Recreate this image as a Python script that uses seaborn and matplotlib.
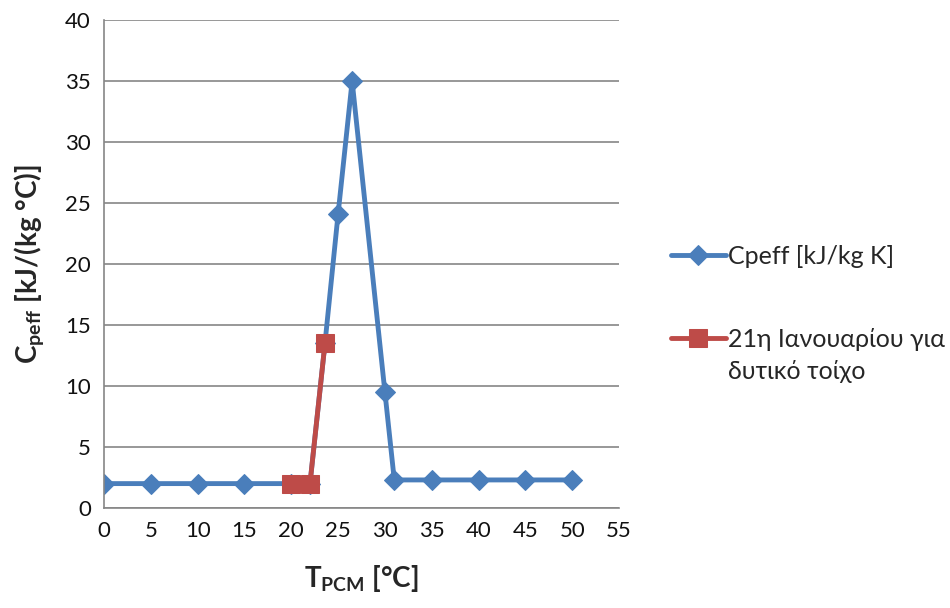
import matplotlib
matplotlib.use("Agg")
import matplotlib.pyplot as plt
import seaborn as sns
import pandas as pd

# Data
blue_x = [0, 5, 10, 15, 20, 22, 23.6, 25, 26.5, 30, 31, 35, 40, 45, 50]
blue_y = [2.0, 2.0, 2.0, 2.0, 2.0, 2.0, 13.5, 24.1, 35.0, 9.5, 2.3, 2.3, 2.3, 2.3, 2.3]
red_x = [20, 22, 23.6]
red_y = [2.0, 2.0, 13.5]
blue_label = "Cpeff [kJ/kg K]"
red_label_1 = "21η Ιανουαρίου για"
red_label_2 = "δυτικό τοίχο"
x_ticks = list(range(0, 56, 5))
y_ticks = list(range(0, 41, 5))

sns.set_theme(style="white")
plt.rcParams['font.family'] = ['Lato', 'DejaVu Sans']
plt.rcParams['mathtext.fontset'] = 'custom'
plt.rcParams['mathtext.rm'] = 'Lato:bold'
plt.rcParams['mathtext.it'] = 'Lato:bold'
plt.rcParams['mathtext.bf'] = 'Lato:bold'

fig = plt.figure(figsize=(9.5, 6.08), dpi=100)
ax = fig.add_axes([104/950, 1-508/608, (619-104)/950, (508-20)/608])

dfb = pd.DataFrame({"x": blue_x, "y": blue_y})
dfr = pd.DataFrame({"x": red_x, "y": red_y})
sns.lineplot(data=dfb, x="x", y="y", ax=ax, color="#4A7EBB", marker="D", markersize=10,
             markeredgecolor="#4A7EBB", linewidth=3.5, label=blue_label, sort=False)
sns.lineplot(data=dfr, x="x", y="y", ax=ax, color="#BE4B48", marker="s", markersize=13,
             markeredgecolor="#BE4B48", linewidth=3.5, label=red_label_1, sort=False)

ax.set_xlim(0, 55)
ax.set_ylim(0, 40)
ax.set_xticks(x_ticks)
ax.set_yticks(y_ticks)
ax.tick_params(axis='both', labelsize=16, labelcolor='#111111', color='#868686',
               length=6, width=1.2, direction='out')
ax.yaxis.grid(True, color='#868686', linewidth=1.2)
ax.xaxis.grid(False)
for s in ['top', 'right']:
    ax.spines[s].set_visible(False)
for s in ['left', 'bottom']:
    ax.spines[s].set_color('#868686')
    ax.spines[s].set_linewidth(1.2)
ax.set_axisbelow(True)

ax.set_xlabel(r"$\mathbf{T_{PCM}}$ [°C]", fontsize=20, fontweight='bold', labelpad=16)
ax.set_ylabel(r"$\mathbf{C_{peff}}$ [kJ/(kg °C)]", fontsize=20, fontweight='bold', labelpad=14)

leg = ax.legend(loc='center left', bbox_to_anchor=(1.10, 0.43), frameon=False, fontsize=18,
                handlelength=2.2, labelspacing=2.4, handletextpad=0.1, borderpad=0, borderaxespad=0)

fig.canvas.draw()
bb = leg.get_texts()[1].get_window_extent()
fig.text(bb.x0 / 950, (bb.y0 - 9) / 608, red_label_2, fontsize=18, va='top', ha='left',
         color=leg.get_texts()[1].get_color())

fig.savefig("out.png", dpi=100)
